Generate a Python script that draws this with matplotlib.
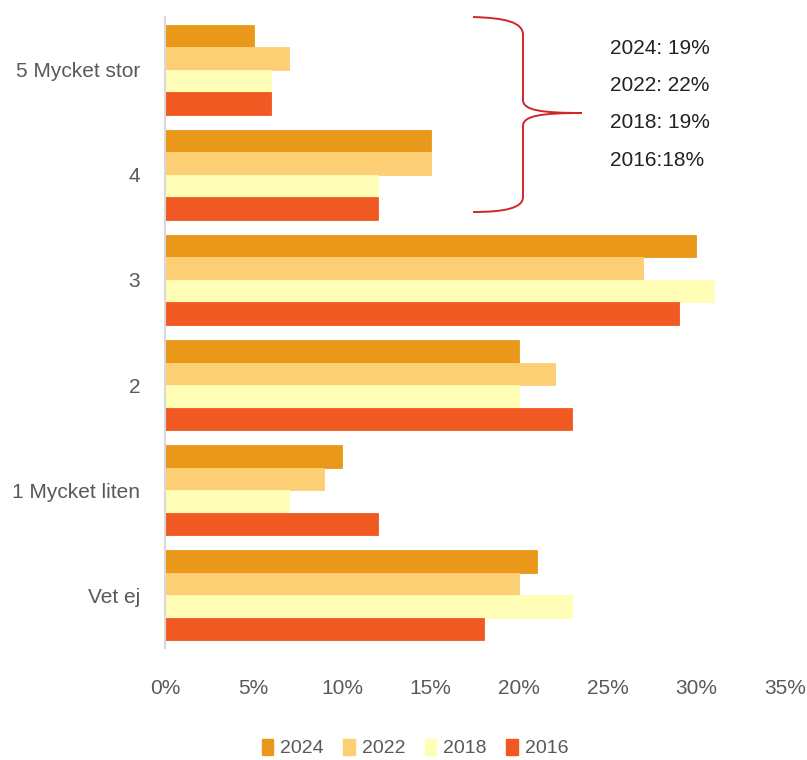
import matplotlib
matplotlib.use("Agg")
import matplotlib.pyplot as plt
from matplotlib.path import Path
from matplotlib.patches import PathPatch, Patch
import numpy as np

plt.rcParams['font.family'] = ['Liberation Sans Narrow', 'Liberation Sans', 'DejaVu Sans']

categories = ["5 Mycket stor", "4", "3", "2", "1 Mycket liten", "Vet ej"]
series_names = ["2024", "2022", "2018", "2016"]
v2024 = [5, 15, 30, 20, 10, 21]
v2022 = [7, 15, 27, 22, 9, 20]
v2018 = [6, 12, 31, 20, 7, 23]
v2016 = [6, 12, 29, 23, 12, 18]
colors = ["#E9981A", "#FDCF74", "#FFFDB6", "#F05A22"]
xticks = [0, 5, 10, 15, 20, 25, 30, 35]
xticklabels = ["0%", "5%", "10%", "15%", "20%", "25%", "30%", "35%"]
note_lines = ["2024: 19%", "2022: 22%", "2018: 19%", "2016:18%"]

W, H = 807, 760
fig = plt.figure(figsize=(W/100, H/100), dpi=100)
ax = fig.add_axes([165/W, 1-648/H, (785-165)/W, (648-17)/H])

series = [v2024, v2022, v2018, v2016]
n = len(categories)
y = np.arange(n)
bh = 0.214
for i, (vals, c, name) in enumerate(zip(series, colors, series_names)):
    offs = (i - 1.5) * bh
    ax.barh(y + offs, vals, height=bh, color=c, label=name,
            edgecolor=c, linewidth=0.6)

ax.set_ylim(n - 0.5, -0.5)
ax.set_xlim(0, 35)
ax.set_xticks(xticks)
ax.set_xticklabels(xticklabels)
ax.set_yticks(y)
ax.set_yticklabels(categories)
for s in ["top", "right", "bottom"]:
    ax.spines[s].set_visible(False)
ax.spines["left"].set_color("#D9D9D9")
ax.spines["left"].set_linewidth(1.5)
ax.tick_params(axis="both", length=0, colors="#595959", labelsize=15)
ax.tick_params(axis="x", pad=22)
ax.tick_params(axis="y", pad=18)

# Legend
handles = [Patch(facecolor=c, edgecolor=c, label=nm) for c, nm in zip(colors, series_names)]
fig.legend(handles=handles, loc="center", bbox_to_anchor=(415/W, 1-748/H), ncol=4,
           frameon=False, fontsize=14, handlelength=0.6, handleheight=0.9,
           handletextpad=0.35, columnspacing=1.0, labelcolor="#595959")

# Brace
def fp(px, py):
    return (px / W, 1 - py / H)
verts = [fp(473, 17), fp(505, 18), fp(523, 22), fp(523, 35),
         fp(523, 100),
         fp(523, 110), fp(540, 113), fp(582, 113),
         fp(540, 113), fp(523, 116), fp(523, 126),
         fp(523, 197),
         fp(523, 208), fp(505, 212), fp(473, 212)]
codes = [Path.MOVETO, Path.CURVE4, Path.CURVE4, Path.CURVE4,
         Path.LINETO,
         Path.CURVE4, Path.CURVE4, Path.CURVE4,
         Path.CURVE4, Path.CURVE4, Path.CURVE4,
         Path.LINETO,
         Path.CURVE4, Path.CURVE4, Path.CURVE4]
fig.add_artist(PathPatch(Path(verts, codes), transform=fig.transFigure,
                         facecolor="none", edgecolor="#D0262B", linewidth=1.4))

for k, t in enumerate(note_lines):
    fig.text(610/W, 1 - (48 + 37.5*k)/H, t, fontsize=15, color="#222222",
             va="center", ha="left")

fig.savefig("out.png", dpi=100)
